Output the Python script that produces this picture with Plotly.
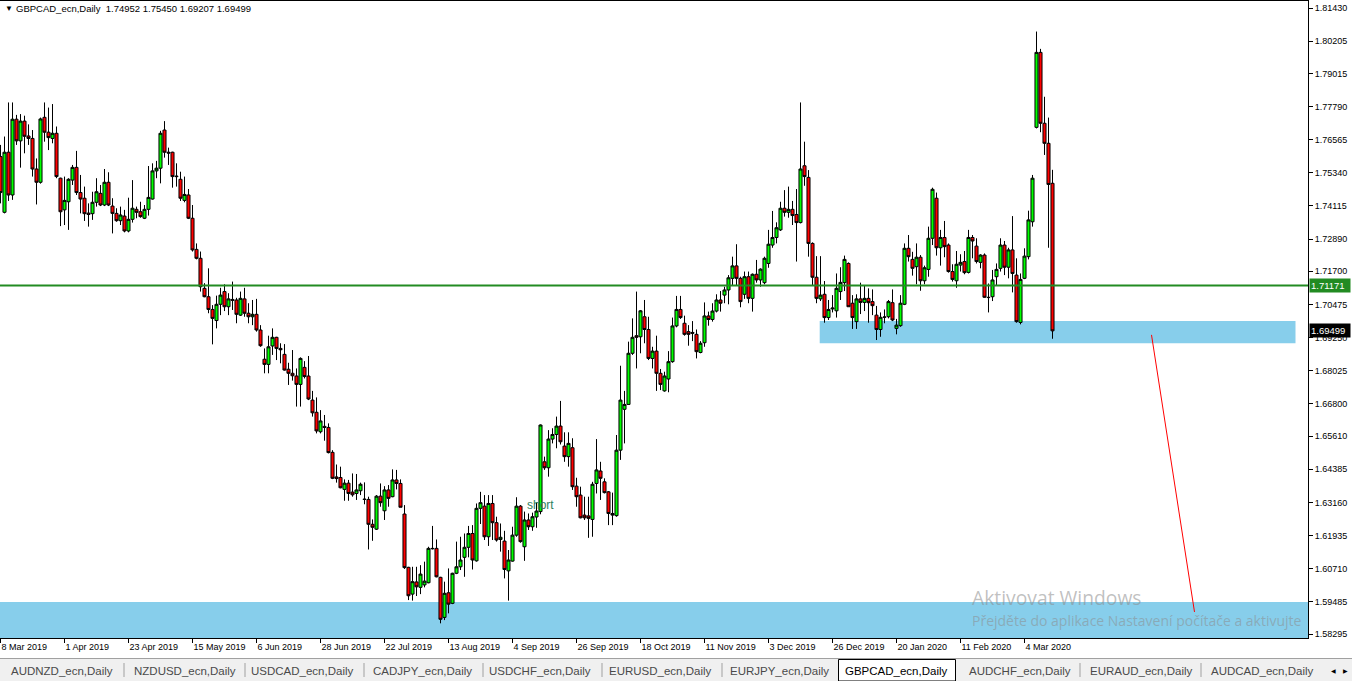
import plotly.graph_objects as go

# ---------------- data ----------------
opens = [1.7594,1.7388,1.7610,1.7452,1.7732,1.7652,1.7725,1.7670,1.7661,1.7548,
1.7499,1.7739,1.7684,1.7661,1.7680,1.7514,1.7397,1.7427,1.7507,1.7554,
1.7461,1.7440,1.7385,1.7383,1.7425,1.7458,1.7415,1.7499,1.7411,1.7384,
1.7357,1.7374,1.7319,1.7362,1.7399,1.7390,1.7366,1.7399,1.7437,1.7541,
1.7551,1.7692,1.7610,1.7610,1.7522,1.7510,1.7432,1.7452,1.7366,1.7251,
1.7218,1.7107,1.7076,1.7029,1.6988,1.7048,1.7095,1.7039,1.7066,1.7064,
1.7008,1.7068,1.7015,1.7002,1.7011,1.6953,1.6845,1.6826,
1.6894,1.6926,1.6885,1.6863,1.6808,1.6793,1.6783,1.6752,1.6815,1.6783,
1.6694,1.6649,1.6577,1.6597,1.6593,1.6501,1.6410,1.6408,1.6364,1.6387,
1.6354,1.6349,1.6359,1.6328,1.6327,1.6235,1.6217,1.6339,1.6285,1.6362,
1.6337,1.6399,1.6386,1.6273,1.6076,1.5977,1.6022,1.6002,1.6011,1.6019,
1.6146,1.6146,1.6039,1.5891,1.5982,1.5943,1.6054,1.6078,1.6113,1.6150,
1.6201,1.6100,1.6294,1.6302,1.6189,1.6312,1.6241,1.6179,1.6173,1.6063,
1.6099,1.6195,1.6302,1.6152,1.6251,1.6226,1.6262,
1.6282,1.6466,1.6444,1.6550,1.6567,1.6598,1.6524,1.6485,1.6518,1.6376,
1.6343,1.6269,1.6266,1.6253,1.6386,1.6432,1.6392,1.6355,1.6275,1.6267,
1.6509,1.6660,1.6678,1.6867,1.6932,1.6928,1.7002,1.6955,1.6848,1.6875,
1.6793,1.6728,1.6772,1.6836,1.6968,1.7029,1.6978,1.6947,1.6944,1.6937,
1.6870,1.6906,1.7005,1.6992,1.7023,1.7064,1.7082,1.7101,1.7144,1.7190,
1.7144,1.7085,1.7150,1.7070,1.7159,1.7138,1.7128,1.7199,1.7267,1.7295,
1.7323,1.7403,1.7388,1.7399,1.7380,1.7350,1.7560,
1.7517,1.7273,1.7148,1.7068,1.7085,1.6999,1.7031,1.7024,1.7095,1.7128,
1.7199,1.7052,1.6984,1.7068,1.7055,1.7070,1.7058,1.7008,1.6955,1.7000,
1.7002,1.7054,1.6959,1.6969,1.7048,1.7255,1.7214,1.7187,1.7222,1.7135,
1.7177,1.7292,1.7440,1.7257,1.7295,1.7267,1.7169,1.7135,1.7193,1.7206,
1.7166,1.7295,1.7263,1.7203,1.7230,1.7074,1.7076,1.7150,1.7181,1.7267,
1.7185,1.7249,1.7156,1.6981,1.7144,1.7224,1.7353,1.7702,1.7979,1.7717,
1.7643,1.74952]

highs = [1.7637,1.7668,1.7794,1.7794,1.7748,1.7751,1.7745,1.7713,1.7692,1.7587,
1.7738,1.7794,1.7775,1.7788,1.7705,1.7516,1.7520,1.7514,1.7563,1.7615,
1.7526,1.7483,1.7421,1.7464,1.7514,1.7489,1.7548,1.7536,1.7440,1.7403,
1.7409,1.7397,1.7442,1.7507,1.7409,1.7427,1.7415,1.7559,1.7569,1.7578,
1.7689,1.7725,1.7627,1.7612,1.7569,1.7538,1.7520,1.7474,1.7415,1.7273,
1.7243,1.7126,1.7181,1.7045,1.7080,1.7109,1.7122,1.7089,1.7132,1.7072,
1.7095,1.7109,1.7052,1.7064,1.7068,1.6971,1.6885,1.6932,
1.6959,1.6928,1.6904,1.6901,1.6832,1.6879,1.6811,1.6852,1.6838,1.6857,
1.6728,1.6704,1.6657,1.6639,1.6608,1.6509,1.6456,1.6448,1.6401,1.6399,
1.6423,1.6421,1.6389,1.6390,1.6337,1.6253,1.6343,1.6386,1.6376,1.6380,
1.6438,1.6436,1.6401,1.6306,1.6078,1.6078,1.6078,1.6084,1.6097,1.6152,
1.6229,1.6179,1.6041,1.6023,1.6072,1.6056,1.6171,1.6189,1.6201,1.6229,
1.6232,1.6312,1.6355,1.6343,1.6343,1.6343,1.6263,1.6238,1.6211,1.6140,
1.6226,1.6335,1.6306,1.6282,1.6275,1.6278,1.6314,
1.6604,1.6485,1.6583,1.6590,1.6633,1.6691,1.6575,1.6575,1.6553,1.6407,
1.6374,1.6337,1.6337,1.6392,1.6550,1.6466,1.6405,1.6358,1.6352,1.6565,
1.6821,1.6728,1.6910,1.6996,1.7095,1.7027,1.7064,1.7002,1.6891,1.6932,
1.6809,1.6799,1.6875,1.6999,1.7079,1.7079,1.7006,1.6971,1.6986,1.6955,
1.6912,1.7055,1.7021,1.7052,1.7085,1.7097,1.7113,1.7156,1.7224,1.7270,
1.7150,1.7169,1.7169,1.7162,1.7212,1.7181,1.7224,1.7323,1.7393,1.7351,
1.7427,1.7470,1.7483,1.7430,1.7474,1.7794,1.7649,
1.7544,1.7277,1.7226,1.7226,1.7134,1.7064,1.7082,1.7162,1.7185,1.7228,
1.7203,1.7082,1.7085,1.7128,1.7119,1.7107,1.7103,1.7042,1.7018,1.7029,
1.7064,1.7103,1.6994,1.7082,1.7273,1.7304,1.7242,1.7273,1.7230,1.7191,
1.7335,1.7479,1.7461,1.7323,1.7356,1.7273,1.7196,1.7245,1.7233,1.7245,
1.7323,1.7304,1.7292,1.7233,1.7236,1.7125,1.7175,1.7199,1.7292,1.7282,
1.7257,1.7374,1.7218,1.7162,1.7255,1.7394,1.7526,1.8056,1.7992,1.7815,
1.7738,1.75450]

lows = [1.7421,1.7384,1.7430,1.7434,1.7637,1.7553,1.7606,1.7637,1.7520,1.7417,
1.7494,1.7649,1.7618,1.7643,1.7514,1.7337,1.7341,1.7323,1.7489,1.7452,
1.7384,1.7356,1.7335,1.7360,1.7409,1.7411,1.7411,1.7411,1.7310,1.7353,
1.7341,1.7314,1.7314,1.7350,1.7366,1.7368,1.7363,1.7376,1.7435,1.7514,
1.7495,1.7590,1.7563,1.7479,1.7483,1.7430,1.7425,1.7363,1.7243,1.7214,
1.7095,1.7074,1.7015,1.6900,1.6959,1.7008,1.7023,1.7008,1.7027,1.6978,
1.7005,1.7002,1.6978,1.6971,1.6947,1.6891,1.6793,1.6793,
1.6861,1.6842,1.6830,1.6803,1.6750,1.6766,1.6670,1.6670,1.6774,1.6694,
1.6633,1.6571,1.6571,1.6544,1.6497,1.6402,1.6389,1.6368,1.6322,1.6322,
1.6337,1.6325,1.6343,1.6309,1.6142,1.6174,1.6214,1.6300,1.6251,1.6300,
1.6335,1.6364,1.6298,1.6070,1.5955,1.5953,1.5970,1.5977,1.6002,1.6017,
1.6142,1.6039,1.5869,1.5881,1.5906,1.5940,1.6051,1.6066,1.6041,1.6113,
1.6068,1.6097,1.6236,1.6177,1.6155,1.6177,1.6171,1.6134,1.6035,1.5953,
1.6097,1.6189,1.6167,1.6100,1.6214,1.6211,1.6222,
1.6272,1.6436,1.6411,1.6534,1.6516,1.6530,1.6466,1.6448,1.6362,1.6300,
1.6257,1.6251,1.6185,1.6189,1.6349,1.6325,1.6349,1.6232,1.6232,1.6263,
1.6473,1.6534,1.6676,1.6861,1.6811,1.6867,1.6904,1.6842,1.6811,1.6728,
1.6731,1.6725,1.6723,1.6832,1.6963,1.6994,1.6932,1.6895,1.6912,1.6848,
1.6867,1.6891,1.6969,1.6984,1.7018,1.7021,1.7052,1.7048,1.7119,1.7119,
1.7037,1.7068,1.7052,1.7021,1.7128,1.7113,1.7122,1.7183,1.7257,1.7273,
1.7319,1.7372,1.7368,1.7341,1.7206,1.7347,1.7486,
1.7224,1.7119,1.7052,1.7060,1.6980,1.6990,1.7018,1.6999,1.7064,1.7097,
1.7039,1.6957,1.6957,1.7012,1.7023,1.6980,1.7008,1.6916,1.6928,1.6978,
1.6996,1.6986,1.6937,1.6965,1.7045,1.7206,1.7154,1.7122,1.7098,1.7122,
1.7150,1.7267,1.7228,1.7191,1.7222,1.7165,1.7132,1.7109,1.7169,1.7159,
1.7162,1.7218,1.7199,1.7181,1.7072,1.7018,1.7060,1.7117,1.7169,1.7156,
1.7144,1.7092,1.6980,1.6974,1.7141,1.7214,1.7335,1.7698,1.7684,1.7600,
1.7257,1.69207]

closes = [1.7461,1.7610,1.7452,1.7732,1.7652,1.7725,1.7669,1.7661,1.7548,1.7499,
1.7733,1.7684,1.7664,1.7680,1.7520,1.7390,1.7432,1.7510,1.7554,1.7461,
1.7437,1.7383,1.7380,1.7425,1.7464,1.7415,1.7499,1.7415,1.7384,1.7357,
1.7378,1.7319,1.7362,1.7403,1.7388,1.7372,1.7399,1.7443,1.7541,1.7551,
1.7680,1.7610,1.7607,1.7520,1.7520,1.7440,1.7454,1.7366,1.7249,1.7218,
1.7113,1.7076,1.7029,1.6996,1.7048,1.7082,1.7039,1.7068,1.7063,1.7011,
1.7070,1.7015,1.7002,1.7011,1.6953,1.6895,1.6826,1.6891,
1.6926,1.6885,1.6880,1.6805,1.6793,1.6784,1.6752,1.6848,1.6781,1.6698,
1.6647,1.6580,1.6617,1.6593,1.6500,1.6405,1.6404,1.6370,1.6387,1.6349,
1.6344,1.6362,1.6383,1.6327,1.6235,1.6224,1.6339,1.6315,1.6362,1.6331,
1.6399,1.6386,1.6298,1.6075,1.5971,1.6023,1.6004,1.6051,1.6025,1.6146,
1.6145,1.6041,1.5884,1.5980,1.5940,1.6054,1.6078,1.6103,1.6150,1.6201,
1.6103,1.6294,1.6315,1.6189,1.6312,1.6241,1.6177,1.6187,1.6068,1.6103,
1.6195,1.6302,1.6171,1.6251,1.6226,1.6263,1.6284,
1.6602,1.6444,1.6550,1.6567,1.6598,1.6540,1.6485,1.6534,1.6374,1.6337,
1.6259,1.6259,1.6257,1.6383,1.6436,1.6405,1.6352,1.6275,1.6269,1.6509,
1.6694,1.6678,1.6867,1.6926,1.6926,1.7024,1.6955,1.6848,1.6875,1.6793,
1.6752,1.6783,1.6836,1.6968,1.7029,1.6999,1.6937,1.6937,1.6941,1.6873,
1.6904,1.7005,1.6992,1.7023,1.7064,1.7052,1.7101,1.7146,1.7190,1.7144,
1.7058,1.7150,1.7070,1.7159,1.7138,1.7178,1.7218,1.7270,1.7295,1.7331,
1.7403,1.7388,1.7399,1.7376,1.7350,1.7548,1.7520,
1.7273,1.7148,1.7070,1.7082,1.6999,1.7029,1.7034,1.7107,1.7129,1.7214,
1.7039,1.6999,1.7068,1.7055,1.7070,1.7054,1.7043,1.6955,1.7000,1.7001,
1.7058,1.6990,1.6971,1.7052,1.7255,1.7224,1.7181,1.7222,1.7135,1.7183,
1.7292,1.7473,1.7257,1.7295,1.7261,1.7169,1.7140,1.7196,1.7203,1.7165,
1.7295,1.7282,1.7206,1.7230,1.7074,1.7073,1.7138,1.7177,1.7267,1.7185,
1.7249,1.7162,1.6984,1.7140,1.7226,1.7360,1.7514,1.7979,1.7717,1.7643,
1.7491,1.69499]

date_labels = ["8 Mar 2019", "1 Apr 2019", "23 Apr 2019", "15 May 2019", "6 Jun 2019",
               "28 Jun 2019", "22 Jul 2019", "13 Aug 2019", "4 Sep 2019", "26 Sep 2019",
               "18 Oct 2019", "11 Nov 2019", "3 Dec 2019", "26 Dec 2019", "20 Jan 2020",
               "11 Feb 2020", "4 Mar 2020"]
bars_per_label = 16

price_ticks = [1.81430, 1.80205, 1.79015, 1.77790, 1.76565, 1.75340, 1.74115, 1.72890,
               1.71700, 1.70475, 1.69250, 1.68025, 1.66800, 1.65610, 1.64385, 1.63160,
               1.61935, 1.60710, 1.59485, 1.58295]

level_line = 1.71171
upper_zone = {"bar0": 204.8, "bar1": 323.75, "low": 1.69037, "high": 1.69862}
lower_zone = {"bar0": -10, "bar1": 340, "low": 1.5790, "high": 1.59476}
trend_bars = [287.75, 298.5]
trend_prices = [1.6935, 1.5911]
note_bar, note_price, note_text = 135.0, 1.6306, "short"

symbol = "GBPCAD_ecn,Daily"
tabs = ["AUDNZD_ecn,Daily", "NZDUSD_ecn,Daily", "USDCAD_ecn,Daily", "CADJPY_ecn,Daily",
        "USDCHF_ecn,Daily", "EURUSD_ecn,Daily", "EURJPY_ecn,Daily", "GBPCAD_ecn,Daily",
        "AUDCHF_ecn,Daily", "EURAUD_ecn,Daily", "AUDCAD_ecn,Daily"]
tab_centers = [62, 185, 302, 422, 540, 661, 779, 896, 1020, 1141, 1262]
tab_separators = [124, 245, 364, 483, 602, 722, 1080, 1201]

# ---------------- layout geometry (pixels) ----------------
W, H = 1352, 681
PL, PR, PT, PB = 0, 1308, 1, 638
PX_PER_BAR = 4.0
PX_PER_UNIT = 2706.0


def fx(x):
    return (x - PL) / (PR - PL)


def fy(y):
    return (PB - y) / (PB - PT)


n = len(opens)
xs = list(range(n))
x_range = [(PL - 0.5) / PX_PER_BAR, (PR - 0.5) / PX_PER_BAR]
y_top = 1.81430 + (8 - PT) / PX_PER_UNIT
y_bot = 1.81430 - (PB - 8) / PX_PER_UNIT

FONT = "Liberation Sans, Arial, sans-serif"

fig = go.Figure()
fig.add_trace(go.Candlestick(
    x=xs, open=opens, high=highs, low=lows, close=closes,
    increasing=dict(line=dict(color="black", width=1), fillcolor="#00ff00"),
    decreasing=dict(line=dict(color="black", width=1), fillcolor="#ff0000"),
    whiskerwidth=0, hoverinfo="skip", showlegend=False,
))

shapes = []
for z in (upper_zone, lower_zone):
    shapes.append(dict(type="rect", xref="x", yref="y", x0=z["bar0"], x1=z["bar1"],
                       y0=z["low"], y1=z["high"], fillcolor="#87ceeb",
                       line=dict(width=0), layer="below"))
shapes.append(dict(type="line", xref="paper", yref="y", x0=0, x1=1,
                   y0=level_line, y1=level_line, line=dict(color="#228b22", width=2)))
shapes.append(dict(type="line", xref="x", yref="y", x0=trend_bars[0], x1=trend_bars[1],
                   y0=trend_prices[0], y1=trend_prices[1], line=dict(color="#ff0000", width=1)))

# tab bar
shapes.append(dict(type="rect", xref="paper", yref="paper", x0=fx(0), x1=fx(W),
                   y0=fy(H + 2), y1=fy(658), fillcolor="#f0f0f0", line=dict(width=0)))
shapes.append(dict(type="line", xref="paper", yref="paper", x0=fx(0), x1=fx(W),
                   y0=fy(658.5), y1=fy(658.5), line=dict(color="#a0a0a0", width=1)))
shapes.append(dict(type="rect", xref="paper", yref="paper", x0=fx(838.5), x1=fx(955.5),
                   y0=fy(681), y1=fy(659.5), fillcolor="white", line=dict(color="black", width=1)))
for sx in tab_separators:
    shapes.append(dict(type="line", xref="paper", yref="paper", x0=fx(sx), x1=fx(sx),
                       y0=fy(663), y1=fy(677), line=dict(color="#a0a0a0", width=1)))

annotations = []
annotations.append(dict(xref="paper", yref="paper", x=fx(3), y=fy(9), xanchor="left",
                        yanchor="middle", text="▼", showarrow=False,
                        font=dict(family=FONT, size=8, color="black")))
annotations.append(dict(xref="paper", yref="paper", x=fx(14), y=fy(9), xanchor="left",
                        yanchor="middle", showarrow=False,
                        text=f"{symbol}  {opens[-1]:.5f} {highs[-1]:.5f} {lows[-1]:.5f} {closes[-1]:.5f}",
                        font=dict(family=FONT, size=9.5, color="black")))
annotations.append(dict(xref="x", yref="y", x=note_bar, y=note_price, text=note_text,
                        showarrow=False, font=dict(family=FONT, size=12, color="#2f7f5f")))
# price markers on the scale
for val, bg in ((level_line, "#228b22"), (closes[-1], "black")):
    annotations.append(dict(xref="paper", yref="y", x=fx(PR + 1), y=val, xanchor="left",
                            yanchor="middle", text=f"{val:.5f}", showarrow=False,
                            bgcolor=bg, width=38, align="left", borderpad=1,
                            font=dict(family=FONT, size=9.5, color="white")))
# windows watermark
wm = "rgba(140,140,140,0.55)"
annotations.append(dict(xref="paper", yref="paper", x=fx(970), y=fy(597), xanchor="left",
                        yanchor="middle", text="Aktivovat Windows", showarrow=False,
                        font=dict(family="Open Sans, sans-serif", size=19.3, color=wm)))
annotations.append(dict(xref="paper", yref="paper", x=fx(970), y=fy(620), xanchor="left",
                        yanchor="middle", text="Přejděte do aplikace Nastavení počítače a aktivujte",
                        showarrow=False, font=dict(family="Open Sans, sans-serif", size=14, color=wm)))
# tabs
for name, cx in zip(tabs, tab_centers):
    annotations.append(dict(xref="paper", yref="paper", x=fx(cx), y=fy(670.5), xanchor="center",
                            yanchor="middle", text=name, showarrow=False,
                            font=dict(family=FONT, size=11.5,
                                      color="black" if name == symbol else "#4a4a4a")))
annotations.append(dict(xref="paper", yref="paper", x=fx(1333), y=fy(670), xanchor="center",
                        yanchor="middle", text="◀", showarrow=False,
                        font=dict(family="DejaVu Sans", size=6, color="black")))
annotations.append(dict(xref="paper", yref="paper", x=fx(1345), y=fy(670), xanchor="center",
                        yanchor="middle", text="▶", showarrow=False,
                        font=dict(family="DejaVu Sans", size=6, color="black")))

fig.update_layout(
    width=W, height=H,
    margin=dict(l=PL, r=W - PR, t=PT, b=H - PB, pad=0),
    paper_bgcolor="white", plot_bgcolor="white",
    showlegend=False, boxgap=0.1, boxgroupgap=0.15,
    shapes=shapes, annotations=annotations,
    xaxis=dict(range=x_range, rangeslider=dict(visible=False), showgrid=False, zeroline=False,
               showline=True, linecolor="black", linewidth=1, mirror=True,
               tickmode="array", tickvals=[i * bars_per_label for i in range(len(date_labels))],
               ticktext=date_labels, ticks="outside", ticklen=4, tickcolor="black",
               ticklabelposition="outside right",
               tickfont=dict(family=FONT, size=9, color="black"), fixedrange=True),
    yaxis=dict(range=[y_bot, y_top], side="right", showgrid=False, zeroline=False,
               showline=True, linecolor="black", linewidth=1,
               tickmode="array", tickvals=price_ticks, ticktext=[f"{v:.5f}" for v in price_ticks],
               ticks="outside", ticklen=4, tickcolor="black",
               tickfont=dict(family=FONT, size=9, color="black"), fixedrange=True),
)

fig.write_html("out.html", config={"staticPlot": True},
               post_script="document.body.style.margin='0';document.body.style.overflow='hidden';")
